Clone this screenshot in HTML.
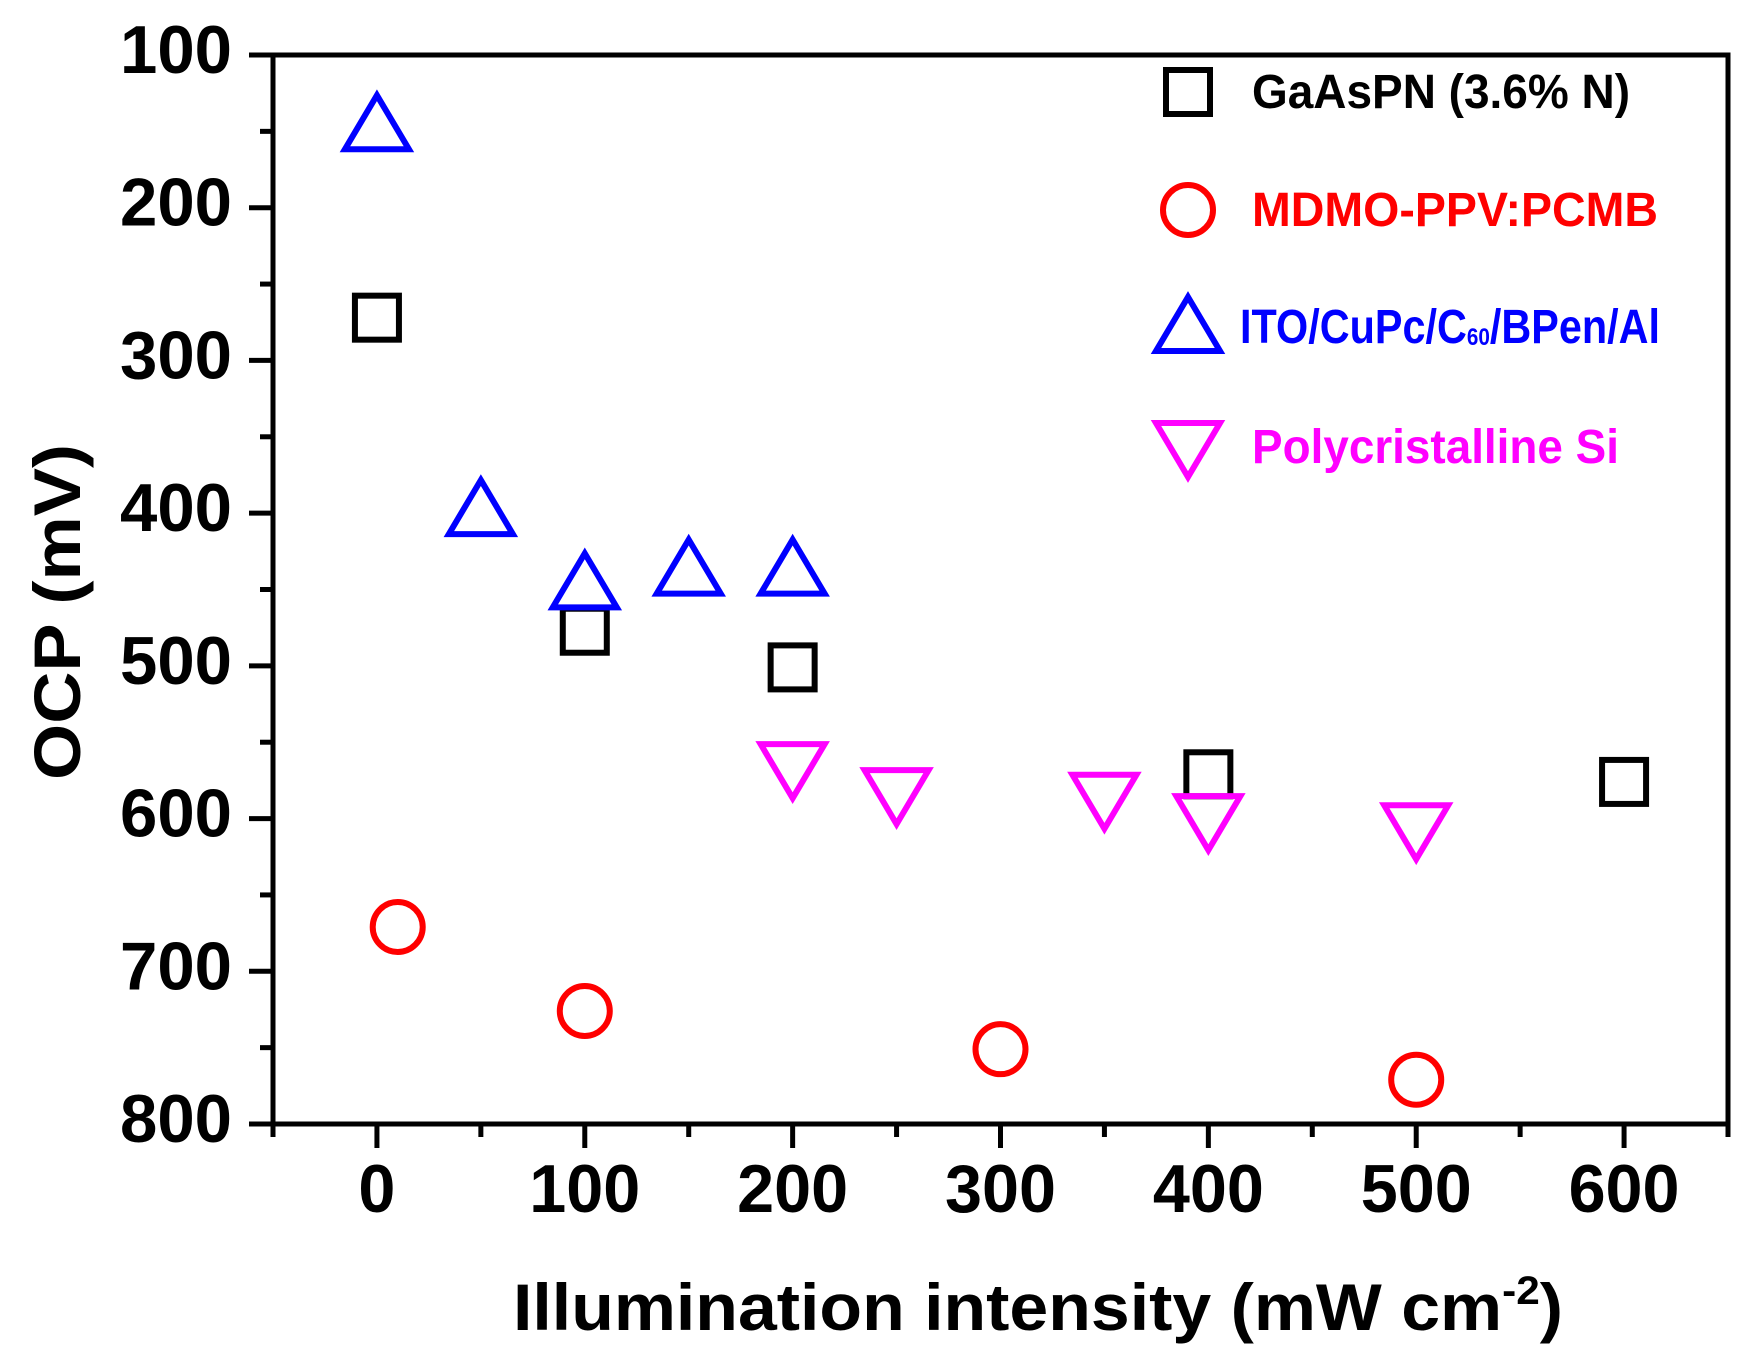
<!DOCTYPE html>
<html><head><meta charset="utf-8"><style>html,body{margin:0;padding:0;background:#fff}svg{display:block}text{font-family:"Liberation Sans",Arial,sans-serif;font-weight:bold}</style></head>
<body>
<svg id="chart" width="1760" height="1360" viewBox="0 0 1760 1360" xmlns="http://www.w3.org/2000/svg">
<g id="axes"></g>
<g id="marks"></g>
<g id="legend"></g>
<text transform="translate(80,612) rotate(-90)" text-anchor="middle" font-size="66" textLength="336" lengthAdjust="spacingAndGlyphs">OCP (mV)</text>
<text x="513" y="1330" font-size="66" textLength="1050" lengthAdjust="spacingAndGlyphs">Illumination intensity (mW cm<tspan dy="-26" font-size="40">-2</tspan><tspan dy="26">)</tspan></text>
</svg>
<script>
const xTicks = [0,100,200,300,400,500,600];
const yTicks = [100,200,300,400,500,600,700,800];
const gaX = [0,100,200,400,600];
const gaY = [272,477,501,571,576];
const mdX = [10,100,300,500];
const mdY = [671,726,751,771];
const itoX = [0,50,100,150,200];
const itoY = [146,398,446,437,437];
const siX = [200,250,350,400,500];
const siY = [567,584,587,601,607];

const NS='http://www.w3.org/2000/svg';
const L=273,R=1728,T=55,B=1124;
const sx=v=>L+(v+50)/700*(R-L);
const sy=v=>T+(v-100)/700*(B-T);
function mk(tag,attrs,parent){const e=document.createElementNS(NS,tag);for(const k in attrs)e.setAttribute(k,attrs[k]);parent.appendChild(e);return e;}
const axes=document.getElementById('axes'),marks=document.getElementById('marks'),legend=document.getElementById('legend');
const frame=mk('rect',{x:L,y:T,width:R-L,height:B-T,fill:'none',stroke:'#000','stroke-width':5},axes);


xTicks.forEach(v=>{
  const t=mk('line',{x1:sx(v),x2:sx(v),y1:B,y2:B+24,stroke:'#000','stroke-width':5},axes);
  
  
  const m=mk('line',{x1:sx(v-50),x2:sx(v-50),y1:B,y2:B+13,stroke:'#000','stroke-width':5},axes);
  
  
  const s=String(v);
  const lb=mk('text',{x:sx(v),y:B+88,'text-anchor':'middle','font-size':68,textLength:s.length*37,lengthAdjust:'spacingAndGlyphs'},axes);
  lb.textContent=s;
  
  
});
const m2=mk('line',{x1:sx(650),x2:sx(650),y1:B,y2:B+13,stroke:'#000','stroke-width':5},axes);


yTicks.forEach(v=>{
  const t=mk('line',{x1:L-24,x2:L,y1:sy(v),y2:sy(v),stroke:'#000','stroke-width':5},axes);
  
  
  if(v<800){const m=mk('line',{x1:L-13,x2:L,y1:sy(v+50),y2:sy(v+50),stroke:'#000','stroke-width':5},axes);
  
  }
  const lb=mk('text',{x:L-41,y:sy(v)+18,'text-anchor':'end','font-size':68,textLength:112,lengthAdjust:'spacingAndGlyphs'},axes);
  lb.textContent=v;
  
  
});
function square(x,y,p,c){return mk('rect',{x:x-22,y:y-22,width:44,height:44,fill:'none',stroke:c,'stroke-width':6},p);}
function circle(x,y,p,c){return mk('circle',{cx:x,cy:y,r:25,fill:'none',stroke:c,'stroke-width':6},p);}
function tri(x,y,p,c){return mk('polygon',{points:`${x},${y-30} ${x+32},${y+24} ${x-32},${y+24}`,fill:'none',stroke:c,'stroke-width':6},p);}
function dtri(x,y,p,c){return mk('polygon',{points:`${x},${y+30} ${x+32},${y-24} ${x-32},${y-24}`,fill:'none',stroke:c,'stroke-width':6},p);}
gaX.forEach((v,i)=>{const e=square(sx(v),sy(gaY[i]),marks,'#000');
  
  });
mdX.forEach((v,i)=>{const e=circle(sx(v),sy(mdY[i]),marks,'#ff0000');
  
  });
itoX.forEach((v,i)=>{const e=tri(sx(v),sy(itoY[i]),marks,'#0000ff');
  
  });
siX.forEach((v,i)=>{const e=dtri(sx(v),sy(siY[i]),marks,'#ff00ff');
  
  });
const leg=[
 {f:square,c:'#000',y:92,t:'GaAsPN (3.6% N)',x:1252,w:378,n:'legend-gaaspn'},
 {f:circle,c:'#ff0000',y:210,t:'MDMO-PPV:PCMB',x:1252,w:406,n:'legend-mdmo'},
 {f:tri,c:'#0000ff',y:327,t:null,x:1240,w:420,n:'legend-ito'},
 {f:dtri,c:'#ff00ff',y:447,t:'Polycristalline Si',x:1252,w:367,n:'legend-si'}];
leg.forEach(o=>{
  const g=mk('g',{},legend);
  
  
  o.f(1188,o.y,g,o.c);
  const tx=mk('text',{x:o.x,y:o.y+16,'font-size':48,fill:o.c,textLength:o.w,lengthAdjust:'spacingAndGlyphs'},g);
  if(o.t)tx.textContent=o.t;
  else tx.innerHTML='ITO/CuPc/C<tspan font-size="24" dy="2">60</tspan><tspan dy="-2">/BPen/Al</tspan>';
});
</script>
</body></html>
